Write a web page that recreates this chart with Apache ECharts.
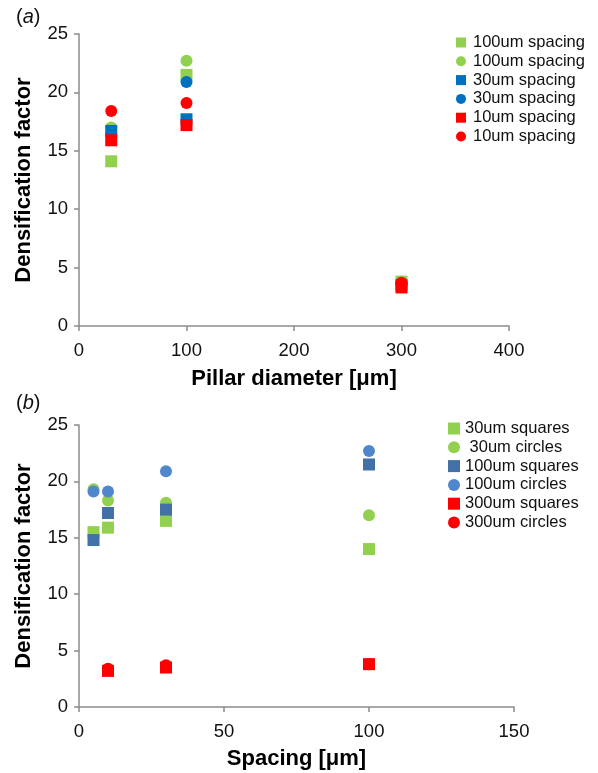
<!DOCTYPE html>
<html>
<head>
<meta charset="utf-8">
<script src="https://cdn.jsdelivr.net/npm/echarts@6/dist/echarts.min.js"></script>
<style>
  html, body { margin: 0; padding: 0; background: #fff; }
  #main { width: 598px; height: 773px; }
</style>
</head>
<body>
<div id="main"></div>
<script>
// panel (a): densification vs pillar diameter
var diameterA = [30, 100, 300];
var sq100 = [14.1, 21.5, 3.8];
var ci100 = [17.0, 22.7, 3.8];
var sq30 = [16.7, 17.7, 3.5];
var ci30 = [16.4, 20.9, 3.6];
var sq10 = [15.9, 17.2, 3.3];
var ci10 = [18.4, 19.1, 3.7];

// panel (b): densification vs spacing
var spacingB = [5, 10, 30, 100];
var sqD30 = [15.5, 15.9, 16.5, 14.0];
var ciD30 = [19.3, 18.3, 18.1, 17.0];
var sqD100 = [14.8, 17.2, 17.5, 21.5];
var ciD100 = [19.1, 19.1, 20.9, 22.7];
var spacingRed = [10, 30, 100];
var sqD300 = [3.2, 3.5, 3.8];
var ciD300 = [3.4, 3.7, 3.8];

var green = '#92d050', blueA = '#0070c0', red = '#ff0000';
var blueSq = '#4470a8', blueCi = '#4f86cc';
var axisGrey = '#8c8c8c';
var font = 'Liberation Sans, Arial, sans-serif';

function pairs(xs, ys) {
  return xs.map(function (x, i) { return [x, ys[i]]; });
}

function sc(name, xs, ys, color, symbol, idx) {
  return {
    name: name,
    type: 'scatter',
    xAxisIndex: idx,
    yAxisIndex: idx,
    symbol: symbol,
    symbolSize: 12,
    itemStyle: { color: color, opacity: 1 },
    data: pairs(xs, ys)
  };
}

function xAx(idx, max, interval, name, gap) {
  return {
    gridIndex: idx, type: 'value', min: 0, max: max, interval: interval,
    name: name, nameLocation: 'middle', nameGap: gap,
    nameTextStyle: { fontFamily: font, fontWeight: 'bold', fontSize: 22, color: '#000' },
    axisLine: { show: true, lineStyle: { color: axisGrey, width: 1.5 } },
    axisTick: { show: true, length: 5, lineStyle: { color: axisGrey, width: 1.5 } },
    axisLabel: { fontFamily: font, fontSize: 18.5, color: '#111', margin: 15 },
    splitLine: { show: false }
  };
}

function yAx(idx) {
  return {
    gridIndex: idx, type: 'value', min: 0, max: 25, interval: 5,
    name: 'Densification factor', nameLocation: 'middle', nameGap: 44,
    nameTextStyle: { fontFamily: font, fontWeight: 'bold', fontSize: 22, color: '#000' },
    axisLine: { show: true, lineStyle: { color: axisGrey, width: 1.5 } },
    axisTick: { show: true, length: 5, lineStyle: { color: axisGrey, width: 1.5 } },
    axisLabel: { fontFamily: font, fontSize: 18.5, color: '#111', margin: 11 },
    splitLine: { show: false }
  };
}

var legendText = { fontFamily: font, fontSize: 16.5, color: '#111', lineHeight: 16, padding: [0, 0, 0, 2] };

var myChart = echarts.init(document.getElementById('main'));

var option = {
  animation: false,
  grid: [
    { left: 79, top: 34, width: 430, height: 292 },
    { left: 79, top: 425, width: 435, height: 282 }
  ],
  xAxis: [
    xAx(0, 400, 100, 'Pillar diameter [μm]', 42),
    xAx(1, 150, 50, 'Spacing [μm]', 41)
  ],
  yAxis: [yAx(0), yAx(1)],
  legend: [
    {
      orient: 'vertical', left: 451, top: 29, itemWidth: 10, itemHeight: 10, itemGap: 1.8,
      textStyle: legendText,
      data: [
        { name: '100um spacing', icon: 'rect' },
        { name: '100um spacing ', icon: 'circle' },
        { name: '30um spacing', icon: 'rect' },
        { name: '30um spacing ', icon: 'circle' },
        { name: '10um spacing', icon: 'rect' },
        { name: '10um spacing ', icon: 'circle' }
      ]
    },
    {
      orient: 'vertical', left: 443, top: 415, itemWidth: 12, itemHeight: 12, itemGap: 1.8,
      textStyle: { fontFamily: font, fontSize: 16.5, color: '#111', lineHeight: 16 },
      data: [
        { name: '30um squares', icon: 'rect' },
        { name: ' 30um circles', icon: 'circle' },
        { name: '100um squares', icon: 'rect' },
        { name: '100um circles', icon: 'circle' },
        { name: '300um squares', icon: 'rect' },
        { name: '300um circles', icon: 'circle' }
      ]
    }
  ],
  graphic: [
    {
      type: 'text', left: 16, top: 7,
      style: { text: '{n|(}{i|a}{n|)}', rich: {
        n: { fontFamily: font, fontSize: 20, fill: '#111' },
        i: { fontFamily: font, fontSize: 20, fontStyle: 'italic', fill: '#111' }
      } }
    },
    {
      type: 'text', left: 16, top: 393,
      style: { text: '{n|(}{i|b}{n|)}', rich: {
        n: { fontFamily: font, fontSize: 20, fill: '#111' },
        i: { fontFamily: font, fontSize: 20, fontStyle: 'italic', fill: '#111' }
      } }
    }
  ],
  series: [
    sc('100um spacing', diameterA, sq100, green, 'rect', 0),
    sc('100um spacing ', diameterA, ci100, green, 'circle', 0),
    sc('30um spacing', diameterA, sq30, blueA, 'rect', 0),
    sc('30um spacing ', diameterA, ci30, blueA, 'circle', 0),
    sc('10um spacing', diameterA, sq10, red, 'rect', 0),
    sc('10um spacing ', diameterA, ci10, red, 'circle', 0),

    sc('30um squares', spacingB, sqD30, green, 'rect', 1),
    sc(' 30um circles', spacingB, ciD30, green, 'circle', 1),
    sc('100um squares', spacingB, sqD100, blueSq, 'rect', 1),
    sc('100um circles', spacingB, ciD100, blueCi, 'circle', 1),
    sc('300um squares', spacingRed, sqD300, red, 'rect', 1),
    sc('300um circles', spacingRed, ciD300, red, 'circle', 1)
  ]
};

myChart.setOption(option);
</script>
</body>
</html>
